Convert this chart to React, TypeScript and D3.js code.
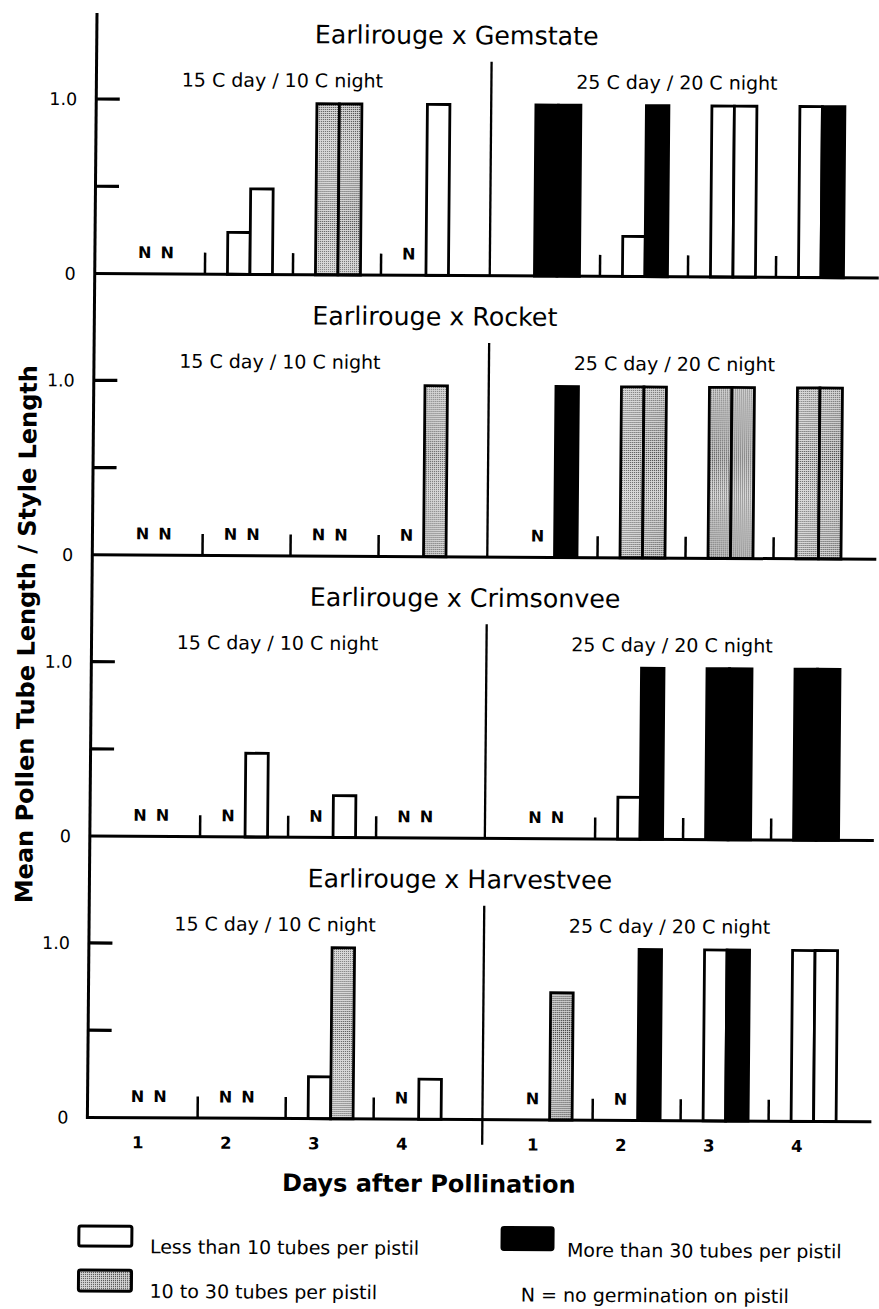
import React from "react";
import * as d3 from "d3";

// ---------- data ----------
const panelTitles = [
  "Earlirouge x Gemstate",
  "Earlirouge x Rocket",
  "Earlirouge x Crimsonvee",
  "Earlirouge x Harvestvee",
];
const regimeLabels = ["15 C day / 10 C night", "25 C day / 20 C night"];
const dayLabels = ["1", "2", "3", "4"];
const yTickValues = [0, 0.5, 1.0];
const yTickLabels = ["0", "", "1.0"];
const yAxisTitle = "Mean Pollen Tube Length / Style Length";
const xAxisTitle = "Days after Pollination";

// class codes: N = no germination, L = <10 tubes, M = 10-30 tubes, H = >30 tubes
// order: 15/10 regime days 1-4 (two pistils each), then 25/20 regime days 1-4
const gemstateClass = ["N", "N", "L", "L", "M", "M", "N", "L", "H", "H", "L", "H", "L", "L", "L", "H"];
const gemstateValue = [0, 0, 0.24, 0.49, 0.98, 0.98, 0, 0.98, 0.98, 0.98, 0.23, 0.98, 0.98, 0.98, 0.98, 0.98];
const rocketClass = ["N", "N", "N", "N", "N", "N", "N", "M", "N", "H", "M", "M", "M", "M", "M", "M"];
const rocketValue = [0, 0, 0, 0, 0, 0, 0, 0.98, 0, 0.98, 0.98, 0.98, 0.98, 0.98, 0.98, 0.98];
const crimsonveeClass = ["N", "N", "N", "L", "N", "L", "N", "N", "N", "N", "L", "H", "H", "H", "H", "H"];
const crimsonveeValue = [0, 0, 0, 0.48, 0, 0.24, 0, 0, 0, 0, 0.24, 0.98, 0.98, 0.98, 0.98, 0.98];
const harvestveeClass = ["N", "N", "N", "N", "L", "M", "N", "L", "N", "M", "N", "H", "L", "H", "L", "L"];
const harvestveeValue = [0, 0, 0, 0, 0.24, 0.98, 0, 0.23, 0, 0.73, 0, 0.98, 0.98, 0.98, 0.98, 0.98];

const panelClasses = [gemstateClass, rocketClass, crimsonveeClass, harvestveeClass];
const panelValues = [gemstateValue, rocketValue, crimsonveeValue, harvestveeValue];

const legendClasses = ["L", "M", "H", "N"];
const legendLabels = [
  "Less than 10 tubes per pistil",
  "10 to 30 tubes per pistil",
  "More than 30 tubes per pistil",
  "N = no germination on pistil",
];

// ---------- layout ----------
const W = 879;
const H = 1309;
const FONT = "DejaVu Sans, Arial, sans-serif";
const axisX = 97;
const axisTop = 13;
const baseline0 = 273.5;
const panelStep = 281.3;
const unitH = 174.5;
const barW = 22.5;
const barOffset = 22.5;
const dividerX = 492;

const xHalves = [
  d3.scaleLinear().domain([0, 4]).range([119.2, 471.2]),
  d3.scaleLinear().domain([0, 4]).range([514.2, 866.2]),
];
const yScale = d3.scaleLinear().domain([0, 1]).range([0, -unitH]);
const panelBase = (i: number) => baseline0 + panelStep * i;

const fillFor = (c: string) => (c === "H" ? "#000" : c === "M" ? "url(#dots)" : "#fff");

function Panel({ idx }: { idx: number }) {
  const cls = panelClasses[idx];
  const vals = panelValues[idx];
  const last = idx === panelTitles.length - 1;
  return (
    <g transform={`translate(0,${panelBase(idx)})`}>
      <text x={315} y={-231.5} fontSize={25.3} fontFamily={FONT}>
        {panelTitles[idx]}
      </text>
      {regimeLabels.map((r, h) => (
        <text
          key={r}
          x={h === 0 ? 283 : 677.5}
          y={-187.5}
          fontSize={19}
          textAnchor="middle"
          fontFamily={FONT}
        >
          {r}
        </text>
      ))}
      {/* divider */}
      <line x1={dividerX} x2={dividerX} y1={-214} y2={last ? 25 : 0} stroke="#000" strokeWidth={2.3} />
      {/* bars */}
      {cls.map((c, k) => {
        const half = k < 8 ? 0 : 1;
        const day = Math.floor((k % 8) / 2);
        const pistil = k % 2;
        const sx = xHalves[half](day);
        const bx = sx + barOffset + pistil * barW;
        if (c === "N") {
          return (
            <text
              key={k}
              x={bx + barW / 2 - 6}
              y={-15.7}
              fontSize={16}
              fontWeight="bold"
              textAnchor="middle"
              fontFamily={FONT}
            >
              N
            </text>
          );
        }
        const yTop = yScale(vals[k]);
        return (
          <rect
            key={k}
            x={bx}
            y={yTop}
            width={barW}
            height={-yTop}
            fill={fillFor(c)}
            stroke="#000"
            strokeWidth={2.8}
          />
        );
      })}
      {/* day separator ticks */}
      {xHalves.map((xs, h) =>
        [1, 2, 3].map((d) => (
          <line
            key={`${h}-${d}`}
            x1={xs(d)}
            x2={xs(d)}
            y1={0}
            y2={-21.5}
            stroke="#000"
            strokeWidth={2.5}
          />
        ))
      )}
      {/* baseline */}
      <line x1={axisX} x2={W + 2} y1={0} y2={0} stroke="#000" strokeWidth={3} />
      {/* y ticks */}
      {yTickValues.map((v, i) => (
        <g key={v}>
          {v > 0 && (
            <line x1={axisX} x2={120.5} y1={yScale(v)} y2={yScale(v)} stroke="#000" strokeWidth={3.2} />
          )}
          {yTickLabels[i] && (
            <text
              x={78}
              y={yScale(v)}
              dy="0.36em"
              fontSize={17.5}
              textAnchor="end"
              fontFamily={FONT}
            >
              {yTickLabels[i]}
            </text>
          )}
        </g>
      ))}
      {/* day labels */}
      {last &&
        xHalves.map((xs, h) =>
          dayLabels.map((dl, d) => (
            <text
              key={`${h}-${dl}`}
              x={xs(d) + 28.5}
              y={30.5}
              fontSize={16.5}
              fontWeight="bold"
              textAnchor="middle"
              fontFamily={FONT}
            >
              {dl}
            </text>
          ))
        )}
    </g>
  );
}

export default function App() {
  const lastBase = panelBase(panelTitles.length - 1);
  const legendPos = [
    { box: [89.5, 1226, 53, 20], tx: 160.7, ty: 1253 },
    { box: [89.5, 1270, 53, 21], tx: 160.7, ty: 1297.5 },
    { box: [512.7, 1225, 51, 22], tx: 577.7, ty: 1254 },
    { box: null, tx: 532, ty: 1299 },
  ];
  return (
    <svg
      width={W}
      height={H}
      viewBox={`0 0 ${W} ${H}`}
      style={{ position: "absolute", left: 0, top: 0, display: "block", background: "#fff" }}
    >
      <defs>
        <pattern id="dots" width={2} height={2} patternUnits="userSpaceOnUse">
          <rect width={2} height={2} fill="#d8d8d8" />
          <rect width={1} height={1} fill="#3c3c3c" />
        </pattern>
      </defs>
      <rect width={W} height={H} fill="#fff" />
      <g transform={`translate(${axisX},${axisTop}) matrix(1,0.0057,-0.0087,1,0,0) translate(${-axisX},${-axisTop})`}>
        {panelTitles.map((t, i) => (
          <Panel key={t} idx={i} />
        ))}
        {/* y axis */}
        <line x1={axisX} x2={axisX} y1={axisTop} y2={lastBase + 1.5} stroke="#000" strokeWidth={3} />
        <text
          transform="translate(40,634.5) rotate(-90)"
          textAnchor="middle"
          fontSize={24}
          fontWeight="bold"
          fontFamily={FONT}
        >
          {yAxisTitle}
        </text>
        <text x={439} y={1190} textAnchor="middle" fontSize={24} fontWeight="bold" fontFamily={FONT}>
          {xAxisTitle}
        </text>
        {legendClasses.map((c, i) => {
          const p = legendPos[i];
          return (
            <g key={c}>
              {p.box && (
                <rect
                  x={p.box[0]}
                  y={p.box[1]}
                  width={p.box[2]}
                  height={p.box[3]}
                  rx={2}
                  fill={fillFor(c)}
                  stroke="#000"
                  strokeWidth={3}
                />
              )}
              <text x={p.tx} y={p.ty} fontSize={19} fontFamily={FONT}>
                {legendLabels[i]}
              </text>
            </g>
          );
        })}
      </g>
    </svg>
  );
}
